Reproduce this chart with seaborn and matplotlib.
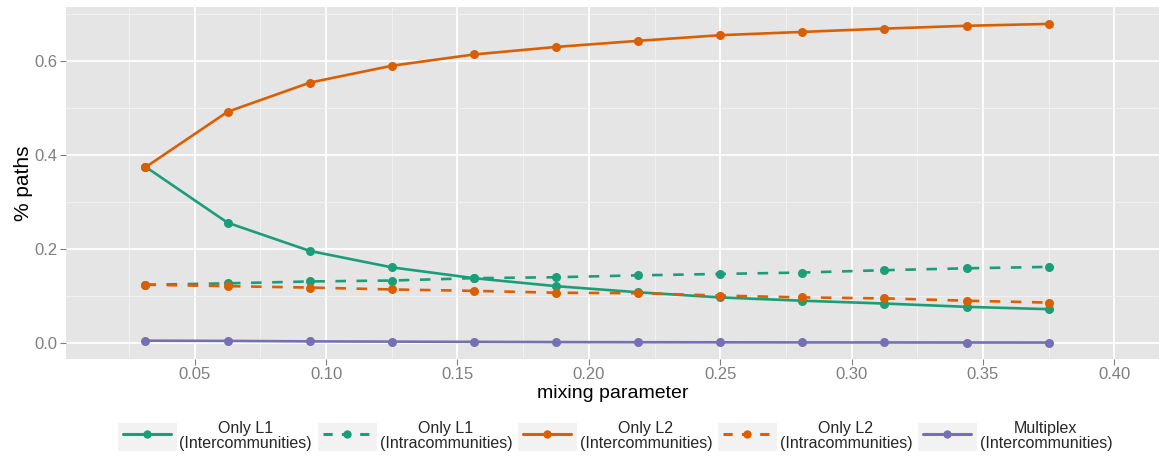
import numpy as np
import pandas as pd
import matplotlib
matplotlib.use("Agg")
import matplotlib.pyplot as plt
import seaborn as sns
from matplotlib.lines import Line2D
from matplotlib.patches import Rectangle
from matplotlib.legend_handler import HandlerLine2D
from matplotlib.ticker import MultipleLocator

# mixing parameter values (steps of 1/32)
mixing = [0.03125, 0.0625, 0.09375, 0.125, 0.15625, 0.1875,
          0.21875, 0.25, 0.28125, 0.3125, 0.34375, 0.375]

l1_inter = [0.375, 0.256, 0.196, 0.161, 0.138, 0.121,
            0.108, 0.097, 0.090, 0.084, 0.077, 0.072]
l1_intra = [0.124, 0.127, 0.131, 0.133, 0.138, 0.140,
            0.144, 0.147, 0.150, 0.155, 0.159, 0.162]
l2_inter = [0.374, 0.492, 0.554, 0.590, 0.614, 0.630,
            0.643, 0.655, 0.662, 0.669, 0.675, 0.679]
l2_intra = [0.124, 0.121, 0.118, 0.114, 0.111, 0.107,
            0.106, 0.101, 0.097, 0.095, 0.090, 0.086]
multiplex = [0.005, 0.0045, 0.0035, 0.003, 0.0025, 0.002,
             0.0017, 0.0015, 0.0013, 0.0012, 0.0011, 0.001]

series_names = ["Only L1\n(Intercommunities)", "Only L1\n(Intracommunities)",
                "Only L2\n(Intercommunities)", "Only L2\n(Intracommunities)",
                "Multiplex\n(Intercommunities)"]
series_values = [l1_inter, l1_intra, l2_inter, l2_intra, multiplex]
series_colors = ["#1B9E77", "#1B9E77", "#D95F02", "#D95F02", "#7570B3"]
series_dashed = [False, True, False, True, False]

x_ticks = [0.05, 0.10, 0.15, 0.20, 0.25, 0.30, 0.35, 0.40]
x_ticklabels = ["0.05", "0.10", "0.15", "0.20", "0.25", "0.30", "0.35", "0.40"]
y_ticks = [0.0, 0.2, 0.4, 0.6]
y_ticklabels = ["0.0", "0.2", "0.4", "0.6"]

frames = []
for name, vals in zip(series_names, series_values):
    frames.append(pd.DataFrame({"mixing": mixing, "paths": vals, "series": name}))
df = pd.concat(frames, ignore_index=True)

sns.set_theme(style="darkgrid")
plt.rcParams["font.family"] = ["Liberation Sans", "DejaVu Sans"]

fig = plt.figure(figsize=(11.59, 4.57), dpi=100)
ax = fig.add_axes([66 / 1159, 1 - 359 / 457, 1 - 66 / 1159, (359 - 7) / 457])
ax.set_facecolor("#E5E5E5")

palette = dict(zip(series_names, series_colors))
dash_map = {n: ((4, 4) if d else "") for n, d in zip(series_names, series_dashed)}
marker_map = {n: "o" for n in series_names}

sns.lineplot(data=df, x="mixing", y="paths", hue="series", style="series",
             palette=palette, dashes=dash_map, markers=marker_map,
             linewidth=1.9, markersize=6.5, markeredgewidth=0, legend=False, ax=ax)

ax.xaxis.set_minor_locator(MultipleLocator(0.025))
ax.yaxis.set_minor_locator(MultipleLocator(0.1))
ax.set_xticks(x_ticks)
ax.set_xticklabels(x_ticklabels)
ax.set_yticks(y_ticks)
ax.set_yticklabels(y_ticklabels)
ax.set_xlim(0.001, 0.417)
ax.set_ylim(-0.034, 0.715)
ax.grid(which="major", color="white", linewidth=1.3)
ax.grid(which="minor", color="#F2F2F2", linewidth=0.7)
for s in ax.spines.values():
    s.set_visible(False)
ax.tick_params(which="major", length=4, width=0.8, color="#7F7F7F",
               labelsize=12, labelcolor="#7F7F7F", pad=2,
               bottom=True, left=True)
ax.tick_params(which="minor", length=0)
ax.set_xlabel("mixing parameter", fontsize=14, labelpad=2, color="black")
ax.set_ylabel("% paths", fontsize=15, labelpad=1, color="black")


class KeyHandler(HandlerLine2D):
    def create_artists(self, legend, orig_handle, xdescent, ydescent,
                       width, height, fontsize, trans):
        pad = 4
        bg = Rectangle((-xdescent - pad, -ydescent - 2), width + 2 * pad, height + 4,
                       facecolor="#F2F2F2", edgecolor="none", transform=trans)
        artists = super().create_artists(legend, orig_handle, xdescent, ydescent,
                                         width, height, fontsize, trans)
        return [bg] + artists


handles = []
for c, d in zip(series_colors, series_dashed):
    handles.append(Line2D([], [], color=c, linewidth=2.2,
                          linestyle=(0, (3, 3)) if d else "-",
                          marker="o", markersize=6, markeredgewidth=0))

leg = fig.legend(handles, series_names, loc="center", ncol=5,
                 bbox_to_anchor=(0.533, 0.046), frameon=False, fontsize=11.5,
                 handlelength=3.0, handleheight=1.75, handletextpad=0.52,
                 columnspacing=0.7, labelspacing=0.2,
                 handler_map={Line2D: KeyHandler(numpoints=1)})
for t in leg.get_texts():
    t.set_multialignment("center")
    t.set_linespacing(1.0)

fig.savefig("out.png", dpi=100)
